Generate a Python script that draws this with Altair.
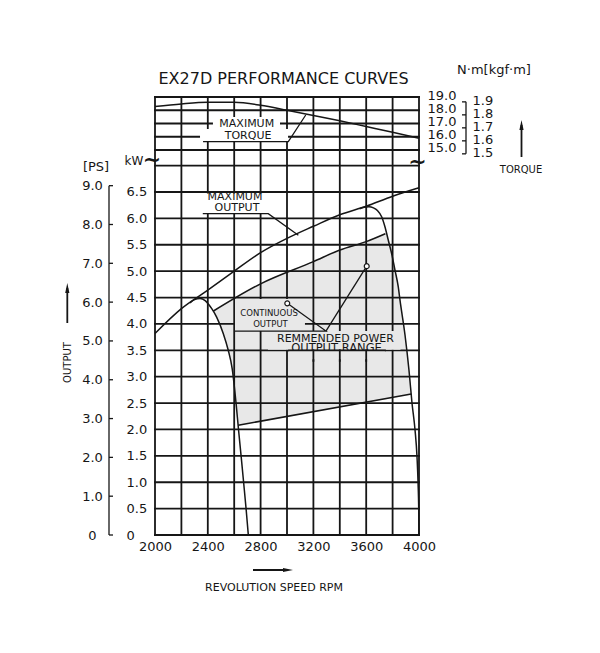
import altair as alt
import pandas as pd

# ---------------- values ----------------
TITLE = "EX27D PERFORMANCE CURVES"
TORQUE_UNIT = "N·m[kgf·m]"
X_TITLE = "REVOLUTION SPEED RPM"

RPM_GRID = [2000, 2200, 2400, 2600, 2800, 3000, 3200, 3400, 3600, 3800, 4000]
RPM_TICKS = [2000, 2400, 2800, 3200, 3600, 4000]
KW_GRID = [0, 0.5, 1.0, 1.5, 2.0, 2.5, 3.0, 3.5, 4.0, 4.5, 5.0, 5.5, 6.0, 6.5, 7.0]
KW_TICKS = [0, 0.5, 1.0, 1.5, 2.0, 2.5, 3.0, 3.5, 4.0, 4.5, 5.0, 5.5, 6.0, 6.5]
PS_TICKS = [0, 1, 2, 3, 4, 5, 6, 7, 8, 9]
NM_GRID = [15, 16, 17, 18, 19]
KGF_TICKS = [1.5, 1.6, 1.7, 1.8, 1.9]

torque_rpm = [2000, 2200, 2400, 2600, 2800, 3000, 3200, 3400, 3600, 3800, 4000]
torque_nm = [18.28, 18.48, 18.60, 18.60, 18.38, 18.00, 17.60, 17.20, 16.77, 16.34, 15.89]

maxout_rpm = [2000, 2200, 2400, 2600, 2800, 3000, 3200, 3400, 3600, 3800, 4000]
maxout_kw = [3.82, 4.29, 4.64, 5.00, 5.35, 5.62, 5.85, 6.07, 6.23, 6.42, 6.58]

contout_rpm = [2440, 2800, 3200, 3400, 3600, 3745]
contout_kw = [4.24, 4.76, 5.18, 5.40, 5.56, 5.71]

lgov_rpm = [2265, 2300, 2341, 2380, 2410, 2430, 2467, 2517, 2555, 2585, 2614, 2633, 2653, 2672, 2691, 2707]
lgov_kw = [4.40, 4.46, 4.48, 4.44, 4.36, 4.29, 4.13, 3.82, 3.50, 3.15, 2.50, 1.99, 1.48, 0.98, 0.47, 0.00]

rgov_rpm = [3550, 3585, 3620, 3655, 3685, 3717, 3742, 3767, 3793, 3818, 3843, 3856, 3894, 3924, 3947, 3970, 3985, 3993, 3998, 4000]
rgov_kw = [6.18, 6.21, 6.22, 6.20, 6.15, 6.03, 5.84, 5.59, 5.33, 5.02, 4.70, 4.45, 3.79, 3.125, 2.50, 1.99, 1.48, 0.98, 0.47, 0.00]

lower_rpm = [2630, 3941]
lower_kw = [2.08, 2.67]

region_rpm = [2440, 2800, 3200, 3400, 3600, 3745, 3767, 3793, 3818, 3843, 3856, 3894, 3924, 3941,
              2630, 2614, 2585, 2555, 2517, 2467, 2445]
region_kw = [4.24, 4.76, 5.18, 5.40, 5.56, 5.71, 5.59, 5.33, 5.02, 4.70, 4.45, 3.79, 3.125, 2.67,
             2.08, 2.50, 3.15, 3.50, 3.82, 4.13, 4.24]

# in-plot labels
nm_label_text = ["MAXIMUM", "TORQUE"]
nm_label_rpm = [2695, 2705]
nm_label_val = [16.94, 16.08]
nm_label_size = [11, 11]

kw_label_text = ["MAXIMUM", "OUTPUT", "CONTINUOUS", "OUTPUT", "REMMENDED POWER"]
kw_label_rpm = [2606, 2621, 2864, 2875, 3367]
kw_label_val = [6.41, 6.19, 4.20, 4.00, 3.714]
kw_label_size = [11, 11, 8.5, 8.5, 11]

range_text = ["OUTPUT RANGE"]
range_rpm = [3375]
range_val = [3.53]

# label backgrounds (rpm from/to, value from/to)
nm_box_r1 = [2439, 2341]
nm_box_r2 = [2947, 3008]
nm_box_v1 = [17.49, 16.58]
nm_box_v2 = [16.58, 15.66]

kw_box_r1 = [2364, 2606, 2856]
kw_box_r2 = [2856, 3136, 3860]
kw_box_v1 = [6.47, 4.47, 3.864]
kw_box_v2 = [6.10, 3.864, 3.51]

# leader lines
nm_leader_rpm = [2364, 3010, 3142]
nm_leader_val = [15.63, 15.63, 17.64]

kw_leader_seg = ["a", "a", "a", "b", "b", "b", "c", "c"]
kw_leader_rpm = [2362, 2858, 3086, 2606, 3295, 3002, 3295, 3604]
kw_leader_val = [6.09, 6.09, 5.68, 3.864, 3.864, 4.39, 3.864, 5.095]

circle_rpm = [3002, 3604]
circle_kw = [4.39, 5.095]

# ---------------- layout / style ----------------
W, H = 264, 438
KW_DOMAIN = [0, 8.3]
NM_DOMAIN = [-14.06, 19.0]
KW_PER_PS = 0.73549875
NM_PER_KGF = 9.80665
PS_DOMAIN = [0, KW_DOMAIN[1] / KW_PER_PS]
KGF_DOMAIN = [NM_DOMAIN[0] / NM_PER_KGF, NM_DOMAIN[1] / NM_PER_KGF]

FONT = "DejaVu Sans"
INK = "#161616"
FILL = "#e8e8e8"
GRID_W = 1.8
CURVE_W = 1.5


def sc(domain):
    return alt.Scale(domain=domain, nice=False, zero=False)


common_axis = dict(grid=False, ticks=False, domain=False, labelFlush=False, labelOverlap=False,
                   labelBound=False, labelFont=FONT, labelFontSize=13, labelColor=INK, title=None)

X_AXIS = alt.Axis(values=RPM_TICKS, format="d", labelPadding=5, **common_axis)
KW_AXIS = alt.Axis(orient="left", values=KW_TICKS,
                   labelExpr="datum.value == 0 ? '0' : format(datum.value, '.1f')",
                   labelAlign="left", labelPadding=29, **common_axis)
PS_AXIS = alt.Axis(orient="left", offset=46, values=PS_TICKS,
                   labelExpr="datum.value == 0 ? '0' : format(datum.value, '.1f')",
                   labelAlign="center", labelPadding=17, **common_axis)
NM_AXIS = alt.Axis(orient="right", values=NM_GRID, format=".1f", labelPadding=8, labelOffset=-2,
                   **common_axis)
KGF_AXIS = alt.Axis(orient="right", offset=47, values=KGF_TICKS, format=".1f", labelPadding=6,
                    labelOffset=-1, **common_axis)


def X(f):
    return alt.X(f"{f}:Q", scale=sc([2000, 4000]), axis=X_AXIS)


def Y(f, domain, axis=None):
    return alt.Y(f"{f}:Q", scale=sc(domain), axis=axis)


one = pd.DataFrame({"a": [0]})

# shaded recommended range
region = alt.Chart(pd.DataFrame({"rpm": region_rpm, "kw": region_kw, "i": list(range(len(region_rpm)))})
                   ).mark_line(fill=FILL, stroke=FILL, strokeWidth=1).encode(
    x=X("rpm"), y=Y("kw", KW_DOMAIN), order="i:Q")

# grid
rule_style = dict(color=INK, strokeWidth=GRID_W, strokeCap="square")
vgrid = alt.Chart(pd.DataFrame({"rpm": RPM_GRID})).mark_rule(**rule_style).encode(
    x=X("rpm"), y=alt.value(0), y2=alt.value(H))
hgrid_kw = alt.Chart(pd.DataFrame({"kw": KW_GRID})).mark_rule(**rule_style).encode(
    y=Y("kw", KW_DOMAIN, KW_AXIS), x=alt.value(0), x2=alt.value(W))
hgrid_nm = alt.Chart(pd.DataFrame({"nm": NM_GRID})).mark_rule(**rule_style).encode(
    y=Y("nm", NM_DOMAIN, NM_AXIS), x=alt.value(0), x2=alt.value(W))

# label backgrounds
box_nm = alt.Chart(pd.DataFrame({"r1": nm_box_r1, "r2": nm_box_r2, "v1": nm_box_v1, "v2": nm_box_v2})
                   ).mark_rect(color="white").encode(
    x=X("r1"), x2="r2", y=Y("v1", NM_DOMAIN), y2="v2")
box_kw = alt.Chart(pd.DataFrame({"r1": kw_box_r1, "r2": kw_box_r2, "v1": kw_box_v1, "v2": kw_box_v2,
                                 "c": ["white", FILL, FILL]})).mark_rect().encode(
    x=X("r1"), x2="r2", y=Y("v1", KW_DOMAIN), y2="v2", color=alt.Color("c:N", scale=None))

# in-plot text
txt_nm = alt.Chart(pd.DataFrame({"rpm": nm_label_rpm, "v": nm_label_val, "t": nm_label_text,
                                 "fs": nm_label_size})).mark_text(font=FONT, color=INK, baseline="middle").encode(
    x=X("rpm"), y=Y("v", NM_DOMAIN), text="t:N", size=alt.Size("fs:Q", scale=None))
txt_kw = alt.Chart(pd.DataFrame({"rpm": kw_label_rpm, "v": kw_label_val, "t": kw_label_text,
                                 "fs": kw_label_size})).mark_text(font=FONT, color=INK, baseline="middle").encode(
    x=X("rpm"), y=Y("v", KW_DOMAIN), text="t:N", size=alt.Size("fs:Q", scale=None))
txt_range = alt.Chart(pd.DataFrame({"rpm": range_rpm, "v": range_val, "t": range_text})
                      ).mark_text(font=FONT, color=INK, baseline="middle", fontSize=11.5).encode(
    x=X("rpm"), y=Y("v", KW_DOMAIN), text="t:N")
# the lower part of "OUTPUT RANGE" is hidden below the 3.5 kW line in the original
cover = alt.Chart(pd.DataFrame({"r1": [3015], "r2": [3742], "v1": [3.485], "v2": [3.33]})
                  ).mark_rect(color=FILL).encode(x=X("r1"), x2="r2", y=Y("v1", KW_DOMAIN), y2="v2")
patch = alt.Chart(pd.DataFrame({"r1": [3015, 3200, 3400, 3600], "r2": [3742, 3200, 3400, 3600],
                                "v1": [3.5, 3.5, 3.5, 3.5], "v2": [3.5, 3.3, 3.3, 3.3]})
                  ).mark_rule(**rule_style).encode(x=X("r1"), x2="r2", y=Y("v1", KW_DOMAIN), y2="v2")


def curve(rpm, vals, domain):
    return alt.Chart(pd.DataFrame({"rpm": rpm, "v": vals})).mark_line(
        color=INK, strokeWidth=CURVE_W, interpolate="monotone").encode(
        x=X("rpm"), y=Y("v", domain))


c_torque = curve(torque_rpm, torque_nm, NM_DOMAIN)
c_max = curve(maxout_rpm, maxout_kw, KW_DOMAIN)
c_cont = curve(contout_rpm, contout_kw, KW_DOMAIN)
c_lgov = curve(lgov_rpm, lgov_kw, KW_DOMAIN)
c_rgov = curve(rgov_rpm, rgov_kw, KW_DOMAIN)
c_lower = curve(lower_rpm, lower_kw, KW_DOMAIN)

lead_nm = alt.Chart(pd.DataFrame({"rpm": nm_leader_rpm, "v": nm_leader_val, "o": [0, 1, 2]})
                    ).mark_line(color=INK, strokeWidth=1.3).encode(
    x=X("rpm"), y=Y("v", NM_DOMAIN), order="o:Q")
lead_kw = alt.Chart(pd.DataFrame({"rpm": kw_leader_rpm, "v": kw_leader_val, "s": kw_leader_seg,
                                  "o": [0, 1, 2, 0, 1, 2, 0, 1]})).mark_line(color=INK, strokeWidth=1.3).encode(
    x=X("rpm"), y=Y("v", KW_DOMAIN), detail="s:N", order="o:Q")
circles = alt.Chart(pd.DataFrame({"rpm": circle_rpm, "v": circle_kw})).mark_point(
    shape="circle", size=24, filled=True, fill="white", stroke=INK, strokeWidth=1.2, opacity=1).encode(
    x=X("rpm"), y=Y("v", KW_DOMAIN))

# secondary scale brackets (PS on the left, kgf·m on the right)
ps_ticks = alt.Chart(pd.DataFrame({"ps": PS_TICKS})).mark_rule(color=INK, strokeWidth=1.3).encode(
    y=Y("ps", PS_DOMAIN, PS_AXIS), x=alt.value(-46), x2=alt.value(-42))
ps_line = alt.Chart(pd.DataFrame({"a": [PS_TICKS[0]], "b": [PS_TICKS[-1]]})).mark_rule(
    color=INK, strokeWidth=1.3).encode(y=Y("a", PS_DOMAIN), y2="b", x=alt.value(-46))
kgf_ticks = alt.Chart(pd.DataFrame({"k": KGF_TICKS})).mark_rule(color=INK, strokeWidth=1.3).encode(
    y=Y("k", KGF_DOMAIN, KGF_AXIS), x=alt.value(W + 43), x2=alt.value(W + 47))
kgf_line = alt.Chart(pd.DataFrame({"a": [KGF_TICKS[0]], "b": [KGF_TICKS[-1]]})).mark_rule(
    color=INK, strokeWidth=1.3).encode(y=Y("a", KGF_DOMAIN), y2="b", x=alt.value(W + 47))


def label(text, x, y, size, **kw):
    return alt.Chart(one).mark_text(text=text, font=FONT, fontSize=size, color=INK,
                                    baseline="middle", **kw).encode(x=alt.value(x), y=alt.value(y))


breaks = [label("~", -3, 63, 22, fontWeight="bold"), label("~", 262.5, 64.5, 22, fontWeight="bold")]
texts = [
    label(TITLE, 128.5, -18, 16),
    label(TORQUE_UNIT, 339, -27, 13),
    label("TORQUE", 366, 73, 10),
    label("kW", -21, 64, 12),
    label("[PS]", -59, 70, 13),
    label(X_TITLE, 119, 491, 11),
    label("OUTPUT", -87.5, 265.5, 10, angle=270),
]


def arrow_rule(x1, x2, y1, y2):
    return alt.Chart(one).mark_rule(color=INK, strokeWidth=1.8).encode(
        x=alt.value(x1), x2=alt.value(x2), y=alt.value(y1), y2=alt.value(y2))


def arrow_head(x, y, path):
    return alt.Chart(one).mark_point(shape=path, size=100, filled=True, color=INK, opacity=1).encode(
        x=alt.value(x), y=alt.value(y))


UP = "M0,-1L0.42,1L-0.42,1Z"
RIGHT = "M1,0L-1,0.42L-1,-0.42Z"
arrows = [
    arrow_rule(-87.7, -87.7, 191, 226), arrow_head(-87.7, 191, UP),
    arrow_rule(366.5, 366.5, 28, 60), arrow_head(366.5, 28, UP),
    arrow_rule(98, 133, 473, 473), arrow_head(133, 473, RIGHT),
]

chart = alt.layer(
    region, vgrid, hgrid_kw, hgrid_nm, box_nm, box_kw, txt_nm, txt_kw, txt_range, cover, patch,
    c_torque, c_max, c_cont, c_lgov, c_rgov, c_lower, lead_nm, lead_kw, circles,
    ps_ticks, ps_line, kgf_ticks, kgf_line, *breaks, *texts, *arrows
).resolve_scale(y="independent").properties(
    width=W, height=H,
    autosize=alt.AutoSizeParams(type="none"),
    padding={"left": 147, "top": 89, "right": 150, "bottom": 70},
    background="white",
).configure_view(strokeOpacity=0)

chart.save("out.html", embed_options={"renderer": "svg", "actions": False})
